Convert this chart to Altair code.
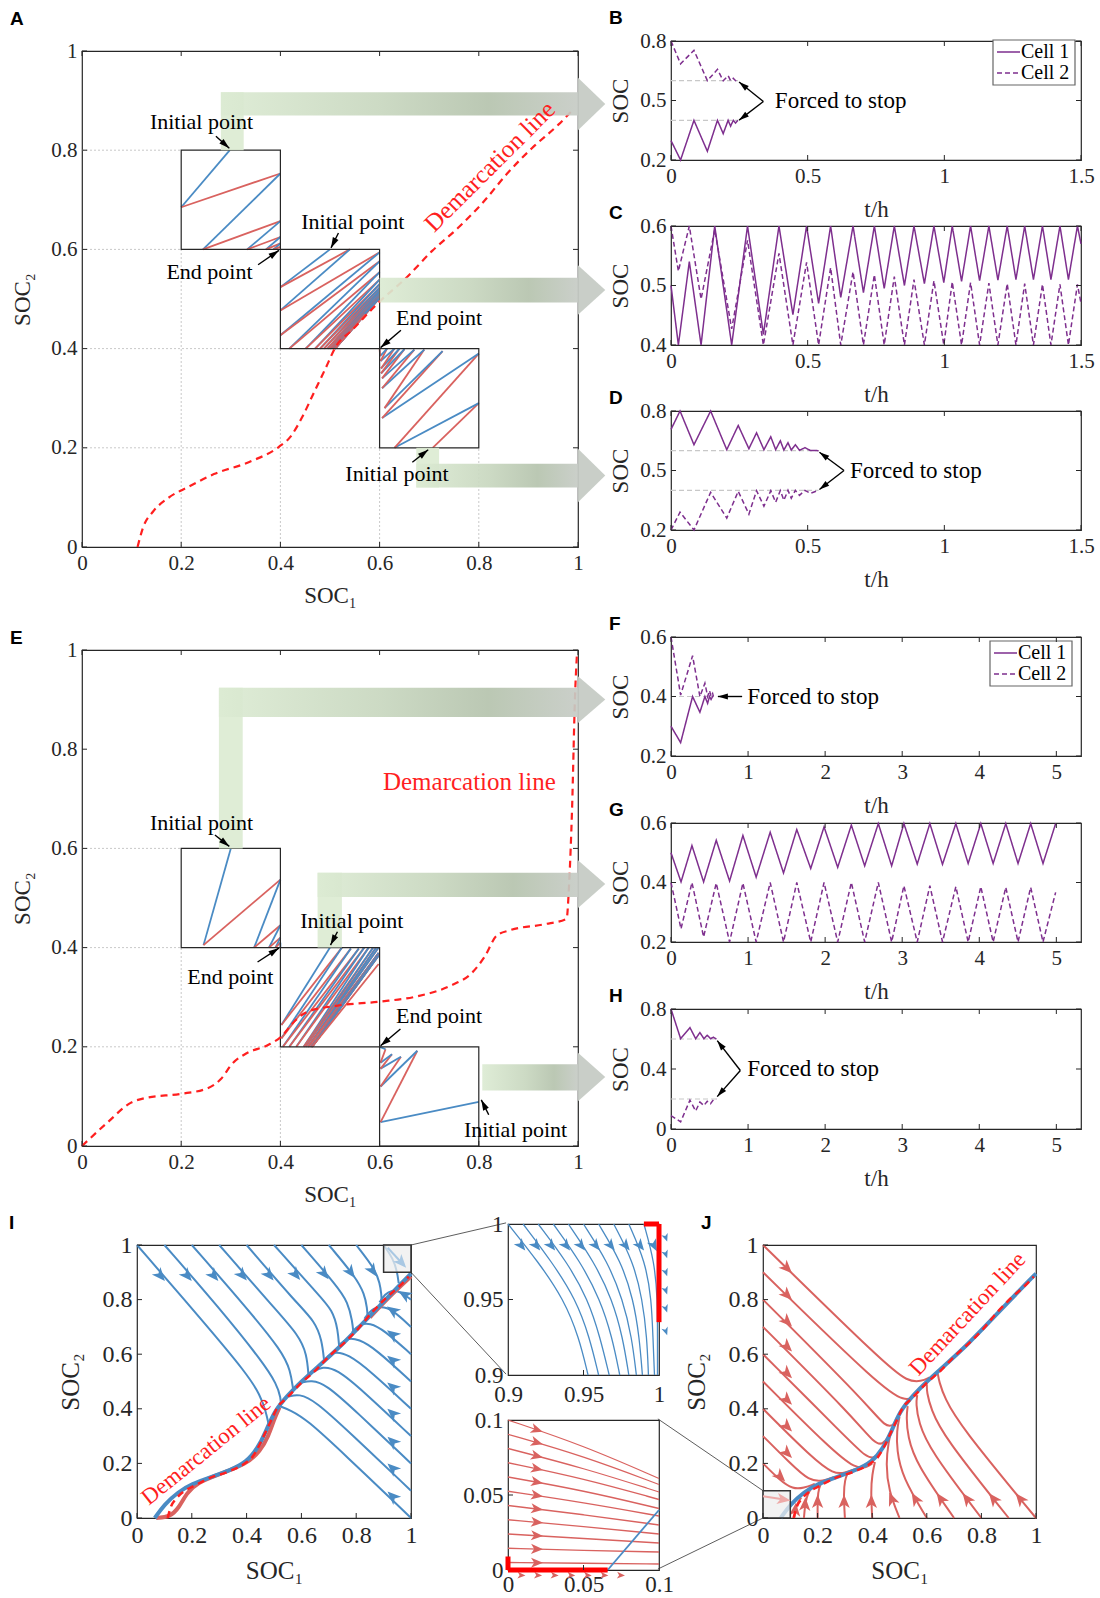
import math
import altair as alt
import pandas as pd

SERIF = "Liberation Serif"
SANS = "Liberation Sans"
INK = "#262626"
BLUE = "#4a8bc4"
RED = "#d9625f"
DEM_RED = "#ff1f1f"
PURPLE = "#7e2f8e"
GRID_GRAY = "#c9c9c9"

# ---------------- time series: t (h), SOC of cell 1 and cell 2 ----------------
B_T = [0, 0.035, 0.084, 0.133, 0.17, 0.191, 0.209, 0.218, 0.228, 0.236, 0.245]
B_CELL1 = [0.298, 0.2, 0.4, 0.244, 0.4, 0.333, 0.4, 0.371, 0.4, 0.386, 0.4]
B_CELL2 = [0.8, 0.685, 0.753, 0.6, 0.657, 0.6, 0.625, 0.6, 0.612, 0.6, 0.605]

C_T = [0, 0.027, 0.067, 0.11, 0.16, 0.222, 0.28, 0.338, 0.395, 0.446,
       0.496, 0.54, 0.584, 0.621, 0.666, 0.704, 0.744, 0.78, 0.817, 0.854,
       0.889, 0.927, 0.962, 0.998, 1.029, 1.063, 1.096, 1.129, 1.163, 1.196,
       1.23, 1.262, 1.294, 1.326, 1.359, 1.39, 1.423, 1.454, 1.487, 1.5]
C_CELL1 = [0.5, 0.4, 0.54, 0.4, 0.6, 0.4, 0.6, 0.418, 0.6, 0.451,
           0.6, 0.47, 0.6, 0.48, 0.6, 0.488, 0.6, 0.495, 0.6, 0.5,
           0.6, 0.503, 0.6, 0.505, 0.6, 0.507, 0.6, 0.508, 0.6, 0.509,
           0.6, 0.51, 0.6, 0.51, 0.6, 0.51, 0.6, 0.51, 0.6, 0.57]
C_CELL2 = [0.6, 0.524, 0.6, 0.477, 0.594, 0.427, 0.576, 0.4, 0.554, 0.4,
           0.539, 0.4, 0.53, 0.4, 0.523, 0.4, 0.518, 0.4, 0.515, 0.4,
           0.51, 0.4, 0.508, 0.4, 0.506, 0.4, 0.505, 0.4, 0.504, 0.4,
           0.503, 0.4, 0.503, 0.4, 0.502, 0.4, 0.502, 0.4, 0.502, 0.47]

D_T = [0, 0.033, 0.084, 0.145, 0.204, 0.246, 0.285, 0.313, 0.34, 0.365,
       0.383, 0.4, 0.413, 0.428, 0.44, 0.455, 0.47, 0.49, 0.51, 0.54]
D_CELL1 = [0.707, 0.8, 0.63, 0.8, 0.605, 0.727, 0.61, 0.69, 0.605, 0.67,
           0.605, 0.65, 0.603, 0.64, 0.603, 0.63, 0.602, 0.615, 0.601, 0.6]
D_CELL2 = [0.2, 0.29, 0.2, 0.39, 0.26, 0.395, 0.28, 0.398, 0.32, 0.398,
           0.34, 0.399, 0.35, 0.4, 0.36, 0.4, 0.375, 0.4, 0.385, 0.4]

F_T = [0, 0.125, 0.28, 0.375, 0.44, 0.475, 0.5, 0.52, 0.54, 0.55]
F_CELL1 = [0.3, 0.245, 0.4, 0.347, 0.4, 0.377, 0.4, 0.39, 0.4, 0.4]
F_CELL2 = [0.6, 0.405, 0.537, 0.4, 0.445, 0.4, 0.42, 0.4, 0.41, 0.4]

G_T = [0, 0.13, 0.272, 0.423, 0.587, 0.76, 0.933, 1.105, 1.287, 1.46,
       1.632, 1.813, 1.986, 2.163, 2.34, 2.513, 2.69, 2.863, 3.022, 3.195,
       3.359, 3.523, 3.696, 3.856, 4.02, 4.18, 4.344, 4.503, 4.667, 4.827, 4.991]
G_CELL1 = [0.5, 0.402, 0.524, 0.402, 0.542, 0.405, 0.558, 0.418, 0.569, 0.432,
           0.578, 0.447, 0.587, 0.451, 0.593, 0.456, 0.598, 0.456, 0.598, 0.462,
           0.598, 0.461, 0.598, 0.464, 0.598, 0.464, 0.598, 0.464, 0.598, 0.464, 0.598]
G_CELL2 = [0.4, 0.244, 0.4, 0.217, 0.398, 0.2, 0.398, 0.2, 0.4, 0.2,
           0.4, 0.2, 0.4, 0.2, 0.4, 0.2, 0.4, 0.2, 0.389, 0.2,
           0.389, 0.2, 0.386, 0.2, 0.386, 0.2, 0.384, 0.2, 0.384, 0.2, 0.367]

H_T = [0, 0.125, 0.246, 0.32, 0.375, 0.427, 0.47, 0.513, 0.55, 0.59]
H_CELL1 = [0.8, 0.602, 0.676, 0.602, 0.643, 0.602, 0.625, 0.602, 0.612, 0.6]
H_CELL2 = [0.089, 0.048, 0.192, 0.12, 0.18, 0.156, 0.185, 0.168, 0.195, 0.2]

# ---------------- demarcation lines ----------------
DEM_A_X = [0.112, 0.123, 0.143, 0.174, 0.212, 0.266, 0.336, 0.397, 0.42, 0.444, 0.467, 0.49,
           0.513, 0.544, 0.598, 0.652, 0.706, 0.76, 0.806, 0.86, 0.907, 0.961, 0.992]
DEM_A_Y = [0.0, 0.039, 0.071, 0.099, 0.12, 0.147, 0.171, 0.202, 0.222, 0.262, 0.31, 0.358,
           0.406, 0.437, 0.493, 0.541, 0.597, 0.645, 0.692, 0.756, 0.804, 0.852, 0.884]
DEM_E_X = [0.0, 0.052, 0.098, 0.129, 0.198, 0.252, 0.28, 0.303, 0.33, 0.376, 0.4, 0.43, 0.453,
           0.515, 0.6, 0.677, 0.747, 0.785, 0.812, 0.836, 0.863, 0.932, 0.977, 0.982, 0.988, 0.994, 0.998]
DEM_E_Y = [0.0, 0.048, 0.087, 0.097, 0.105, 0.116, 0.135, 0.166, 0.186, 0.204, 0.219, 0.253, 0.27,
           0.283, 0.291, 0.302, 0.325, 0.348, 0.382, 0.424, 0.435, 0.447, 0.458, 0.527, 0.679, 0.907, 0.994]

# limit curve followed by the streamlines
GUIDE_X = [0.065, 0.1, 0.15, 0.2, 0.27, 0.34, 0.4, 0.44, 0.47, 0.5, 0.55, 0.6, 0.65, 0.75, 0.85, 0.95, 1.0]
GUIDE_Y = [0.0, 0.05, 0.095, 0.125, 0.15, 0.175, 0.205, 0.255, 0.315, 0.39, 0.45, 0.5, 0.545, 0.635, 0.74, 0.845, 0.895]
I_RED_X = [[0.07, 0.12, 0.155, 0.18, 0.22, 0.3, 0.4, 0.45, 0.48, 0.5, 0.52], [0.85, 0.92, 1.0]]
I_RED_Y = [[0.0, 0.003, 0.04, 0.09, 0.13, 0.16, 0.198, 0.245, 0.3, 0.36, 0.405], [0.735, 0.81, 0.885]]

# ---------------- panel I streamlines (discharge field) ----------------
I_UP_X = [[0.0, 0.25, 0.40, 0.45, 0.47, 0.48],
          [0.1, 0.30, 0.46, 0.51, 0.525, 0.525],
          [0.2, 0.40, 0.53, 0.56, 0.57],
          [0.3, 0.50, 0.59, 0.62, 0.626],
          [0.4, 0.58, 0.65, 0.675, 0.683],
          [0.5, 0.66, 0.715, 0.733, 0.738],
          [0.6, 0.73, 0.77, 0.786, 0.79],
          [0.7, 0.80, 0.83, 0.84, 0.842],
          [0.8, 0.87, 0.886, 0.892, 0.893],
          [0.9, 0.935, 0.95, 0.955]]
I_UP_Y = [[1.0, 0.71, 0.53, 0.45, 0.39, 0.345],
          [1.0, 0.77, 0.57, 0.49, 0.44, 0.41],
          [1.0, 0.77, 0.61, 0.54, 0.47],
          [1.0, 0.77, 0.67, 0.60, 0.52],
          [1.0, 0.79, 0.72, 0.65, 0.575],
          [1.0, 0.82, 0.76, 0.69, 0.625],
          [1.0, 0.85, 0.79, 0.72, 0.676],
          [1.0, 0.88, 0.82, 0.77, 0.73],
          [1.0, 0.91, 0.86, 0.82, 0.79],
          [1.0, 0.95, 0.9, 0.86]]
I_UP_ARROW_X = [0.085, 0.183, 0.28, 0.384, 0.482, 0.579, 0.683, 0.78, 0.86]
I_UP_ARROW_Y = [0.888, 0.888, 0.888, 0.89, 0.89, 0.892, 0.895, 0.9, 0.906]
I_UP_ARROW_U = [1, 1, 1, 1, 1, 1, 1, 1, 1]
I_UP_ARROW_V = [-1.16, -1.16, -1.16, -1.16, -1.2, -1.2, -1.25, -1.35, -1.5]

I_R_X = [[1.0, 0.75, 0.62, 0.56, 0.52],
         [1.0, 0.78, 0.65, 0.59, 0.555],
         [1.0, 0.80, 0.69, 0.635, 0.60],
         [1.0, 0.82, 0.73, 0.675, 0.645],
         [1.0, 0.85, 0.77, 0.72, 0.695],
         [1.0, 0.87, 0.81, 0.765, 0.74],
         [1.0, 0.90, 0.85, 0.81, 0.785],
         [1.0, 0.93, 0.89, 0.855, 0.83],
         [1.0, 0.96, 0.93, 0.905, 0.885]]
I_R_Y = [[0.0, 0.24, 0.36, 0.395, 0.41],
         [0.1, 0.31, 0.43, 0.455, 0.445],
         [0.2, 0.39, 0.49, 0.505, 0.495],
         [0.3, 0.47, 0.545, 0.555, 0.535],
         [0.4, 0.54, 0.60, 0.61, 0.59],
         [0.5, 0.62, 0.655, 0.66, 0.635],
         [0.6, 0.69, 0.715, 0.71, 0.68],
         [0.7, 0.765, 0.775, 0.765, 0.73],
         [0.8, 0.83, 0.835, 0.82, 0.79]]
I_R_ARROW_X = [0.933, 0.933, 0.933, 0.933, 0.933, 0.933, 0.933, 0.933, 0.976]
I_R_ARROW_Y = [0.079, 0.182, 0.28, 0.383, 0.48, 0.578, 0.672, 0.76, 0.818]
I_R_ARROW_U = [-1, -1, -1, -1, -1, -1, -1, -1, -1]
I_R_ARROW_V = [0.96, 0.95, 0.95, 0.9, 0.85, 0.8, 0.75, 0.7, 0.6]

# ---------------- panel J streamlines (charge field) ----------------
J_L_X = [[0.0, 0.45, 0.53, 0.58, 0.61],
         [0.0, 0.44, 0.52, 0.55, 0.57],
         [0.0, 0.38, 0.45, 0.48, 0.5],
         [0.0, 0.33, 0.41, 0.44, 0.46],
         [0.0, 0.3, 0.38, 0.41, 0.43],
         [0.0, 0.25, 0.34, 0.38, 0.4],
         [0.0, 0.18, 0.26, 0.3, 0.34],
         [0.0, 0.1, 0.17, 0.22, 0.26],
         [0.0, 0.06, 0.11, 0.15, 0.19]]
J_L_Y = [[1.0, 0.56, 0.5, 0.5, 0.515],
         [0.9, 0.47, 0.43, 0.44, 0.465],
         [0.8, 0.42, 0.33, 0.34, 0.37],
         [0.7, 0.37, 0.27, 0.27, 0.3],
         [0.6, 0.3, 0.22, 0.22, 0.24],
         [0.5, 0.25, 0.18, 0.185, 0.2],
         [0.4, 0.22, 0.16, 0.165, 0.18],
         [0.3, 0.2, 0.135, 0.135, 0.15],
         [0.2, 0.14, 0.105, 0.11, 0.125]]
J_L_ARROW_X = [0.088, 0.088, 0.088, 0.088, 0.088, 0.088, 0.088, 0.088, 0.063]
J_L_ARROW_Y = [0.915, 0.817, 0.72, 0.628, 0.53, 0.433, 0.335, 0.238, 0.152]

J_B_X = [[1.0, 0.72, 0.665, 0.645, 0.64],
         [0.9, 0.66, 0.615, 0.6, 0.6],
         [0.8, 0.61, 0.57, 0.56, 0.565],
         [0.7, 0.56, 0.53, 0.525, 0.53],
         [0.6, 0.51, 0.49, 0.49, 0.5],
         [0.5, 0.46, 0.45, 0.46, 0.47],
         [0.4, 0.395, 0.4, 0.41],
         [0.3, 0.295, 0.3, 0.31],
         [0.2, 0.2, 0.205, 0.215],
         [0.15, 0.155, 0.165, 0.175],
         [0.115, 0.12, 0.13, 0.14]]
J_B_Y = [[0.0, 0.34, 0.44, 0.5, 0.53],
         [0.0, 0.3, 0.4, 0.46, 0.49],
         [0.0, 0.25, 0.35, 0.42, 0.45],
         [0.0, 0.2, 0.3, 0.37, 0.41],
         [0.0, 0.15, 0.25, 0.32, 0.37],
         [0.0, 0.1, 0.2, 0.28, 0.32],
         [0.0, 0.1, 0.16, 0.205],
         [0.0, 0.09, 0.14, 0.165],
         [0.0, 0.08, 0.11, 0.13],
         [0.0, 0.06, 0.09, 0.105],
         [0.0, 0.04, 0.06, 0.075]]
J_B_ARROW_X = [0.942, 0.844, 0.747, 0.651, 0.558, 0.472, 0.397, 0.297, 0.2, 0.154, 0.118]
J_B_ARROW_Y = [0.07, 0.07, 0.07, 0.07, 0.07, 0.07, 0.06, 0.06, 0.06, 0.05, 0.03]
J_B_ARROW_U = [-0.82, -0.8, -0.76, -0.7, -0.6, -0.4, 0, 0, 0, 0.05, 0.1]

# ---------------- zoomed insets ----------------
IT_Y = [1.0, 0.975, 0.95, 0.925, 0.9]
IT_X = [[0.900, 0.920, 0.937, 0.947, 0.953],
        [0.910, 0.929, 0.945, 0.954, 0.960],
        [0.920, 0.939, 0.953, 0.961, 0.967],
        [0.930, 0.948, 0.961, 0.969, 0.974],
        [0.940, 0.957, 0.969, 0.976, 0.980],
        [0.950, 0.966, 0.976, 0.982, 0.985],
        [0.960, 0.975, 0.983, 0.987, 0.989],
        [0.970, 0.983, 0.989, 0.992, 0.993],
        [0.980, 0.991, 0.995, 0.996, 0.997],
        [0.990, 0.997, 0.999, 0.999, 0.999]]
IT_ARROW_X = [0.9088, 0.9187, 0.9286, 0.9385, 0.9484, 0.9582, 0.9681, 0.978, 0.9875, 0.9967]
IT_ARROW_Y = [0.9857] * 10
# arrowheads of streamlines just beyond the right edge of the zoom window
IT_EDGE_Y = [0.991, 0.98, 0.968, 0.956, 0.944, 0.929]

IB_X = [0.0, 0.05, 0.1]
IB_Y = [[0.1, 0.083, 0.061],
        [0.0905, 0.076, 0.057],
        [0.081, 0.068, 0.052],
        [0.0715, 0.061, 0.047],
        [0.062, 0.053, 0.041],
        [0.0525, 0.045, 0.036],
        [0.043, 0.037, 0.03],
        [0.0335, 0.029, 0.024],
        [0.024, 0.021, 0.018],
        [0.0145, 0.013, 0.012],
        [0.005, 0.0045, 0.004]]
IB_ARROW_Y = [0.0935, 0.085, 0.076, 0.0675, 0.0586, 0.0497, 0.0407, 0.0318, 0.0229, 0.014, 0.0048]
IB_ARROW_V = [-0.34, -0.29, -0.26, -0.21, -0.18, -0.15, -0.12, -0.09, -0.06, -0.03, -0.01]
# arrowheads of streamlines just below the bottom edge of the zoom window
IB_EDGE_X = [0.0088, 0.0198, 0.0308, 0.0418, 0.0527, 0.0637, 0.0747]

# ---------------- annotations ----------------
UNIT_TICKS = [0, 0.2, 0.4, 0.6, 0.8, 1]
NOTES_AE = ["Initial point", "Initial point", "End point", "End point", "Initial point"]
A_NOTE_X = [0.241, 0.546, 0.257, 0.72, 0.635]
A_NOTE_Y = [0.856, 0.655, 0.555, 0.461, 0.147]
A_PTR = ([0.27, 0.517, 0.355, 0.643, 0.666], [0.828, 0.633, 0.569, 0.437, 0.171],
         [0.297, 0.502, 0.397, 0.602, 0.698], [0.804, 0.603, 0.598, 0.402, 0.196])
E_NOTE_X = [0.241, 0.544, 0.299, 0.72, 0.874]
E_NOTE_Y = [0.652, 0.454, 0.34, 0.262, 0.033]
E_PTR = ([0.268, 0.515, 0.354, 0.642, 0.82], [0.627, 0.432, 0.371, 0.236, 0.063],
         [0.297, 0.501, 0.397, 0.602, 0.805], [0.604, 0.405, 0.399, 0.202, 0.093])

A_GRID_H_Y = [0.8, 0.6, 0.4, 0.2]
A_GRID_H_X2 = [0.2, 0.2, 0.4, 0.6]
A_GRID_V_X = [0.2, 0.4, 0.6, 0.8]
A_GRID_V_Y2 = [0.6, 0.4, 0.2, 0.2]
E_GRID_H_Y = [0.6, 0.4, 0.2]
E_GRID_H_X2 = [0.2, 0.2, 0.4]
E_GRID_V_X = [0.2, 0.4]
E_GRID_V_Y2 = [0.4, 0.2]
A_BOX_X = [0.2, 0.4, 0.6]
A_BOX_Y = [0.6, 0.4, 0.2]
E_BOX_X = [0.2, 0.4, 0.6]
E_BOX_Y = [0.4, 0.2, 0.0]

# wide guide arrows: vertical stubs, horizontal bands, heads
A_STUB = ([0.28, 0.674], [0.326, 0.72], [0.8, 0.12], [0.917, 0.2])
A_BAND = ([0.28, 0.6, 0.674], [0.87, 0.493, 0.12], [0.917, 0.543, 0.168])
A_HEAD = ([0.893, 0.518, 0.144], [0.053, 0.05, 0.054])
E_STUB = ([0.276, 0.475], [0.324, 0.524], [0.6, 0.4], [0.924, 0.551])
E_BAND = ([0.276, 0.475, 0.807], [0.865, 0.502, 0.112], [0.924, 0.551, 0.165])
E_HEAD = ([0.9, 0.528, 0.139], [0.047, 0.048, 0.049])

CELLS = ["Cell 1", "Cell 2"]

BAND_FILL = {"gradient": "linear", "x1": 0, "y1": 0, "x2": 1, "y2": 0,
             "stops": [{"offset": 0, "color": "#dcebd3"}, {"offset": 0.45, "color": "#c8d7bf"},
                       {"offset": 0.75, "color": "#b5c3ad"}, {"offset": 1, "color": "#c6cbc5"}]}

CHEVRON = "M0,-1L0.8,0.9L0,0.4L-0.8,0.9Z"
TIP = "M0,-1L0.6,1L-0.6,1Z"


def make_axis(values, fs, title=None, tfs=23, horizontal=True, w=0, h=0, tpos=0, pad=5):
    kw = dict(values=values, format="~g", labelFont=SERIF, labelFontSize=fs, labelColor=INK, labelPadding=pad,
              labelFlush=False, labelOverlap=False, ticks=False, domain=False, grid=False)
    if title:
        kw.update(title=title, titleFont=SERIF, titleFontSize=tfs, titleFontWeight="normal", titleColor=INK)
        if horizontal:
            kw.update(titleX=w / 2, titleY=tpos, titleBaseline="alphabetic", titleAlign="center")
        else:
            kw.update(titleAngle=270, titleX=tpos, titleY=h / 2, titleBaseline="middle", titleAlign="center")
    else:
        kw["title"] = None
    return alt.Axis(**kw)


class Panel:
    """One plot area: fixed scales and a shared axis definition for all of its layers."""

    def __init__(self, w, h, xdom, ydom, xticks, yticks, fs, xtitle=None, ytitle=None, tfs=23, xty=56, ytx=-60,
                 xpad=5):
        self.w, self.h = w, h
        self.xdom, self.ydom = xdom, ydom
        self.xs = alt.Scale(domain=xdom, nice=False, zero=False)
        self.ys = alt.Scale(domain=ydom, nice=False, zero=False)
        self.xaxis = make_axis(xticks, fs, xtitle, tfs, True, w, h, xty, xpad)
        self.yaxis = make_axis(yticks, fs, ytitle, tfs, False, w, h, ytx)
        self.sx = w / (xdom[1] - xdom[0])
        self.sy = h / (ydom[1] - ydom[0])
        self.layers = []

    def X(self, f):
        return alt.X(f, type="quantitative", scale=self.xs, axis=self.xaxis)

    def Y(self, f):
        return alt.Y(f, type="quantitative", scale=self.ys, axis=self.yaxis)

    def angle(self, u, v):
        return math.degrees(math.atan2(u * self.sx, v * self.sy)) % 360

    def add(self, *c):
        self.layers.extend(c)

    def chart(self):
        return alt.layer(*self.layers).properties(width=self.w, height=self.h)


def add_ticks(p, xticks, yticks, sides, L=5):
    dx = pd.DataFrame({"v": xticks})
    dy = pd.DataFrame({"v": yticks})
    st = dict(color=INK, strokeWidth=1)
    if "b" in sides:
        p.add(alt.Chart(dx).mark_rule(**st).encode(x=p.X("v"), y=alt.value(p.h), y2=alt.value(p.h - L)))
    if "t" in sides:
        p.add(alt.Chart(dx).mark_rule(**st).encode(x=p.X("v"), y=alt.value(0), y2=alt.value(L)))
    if "l" in sides:
        p.add(alt.Chart(dy).mark_rule(**st).encode(y=p.Y("v"), x=alt.value(0), x2=alt.value(L)))
    if "r" in sides:
        p.add(alt.Chart(dy).mark_rule(**st).encode(y=p.Y("v"), x=alt.value(p.w), x2=alt.value(p.w - L)))


def seg_df(x1, y1, x2, y2):
    return pd.DataFrame({"x": x1, "y": y1, "x2": x2, "y2": y2})


def add_segments(p, df, **mark):
    p.add(alt.Chart(df).mark_rule(**mark).encode(
        x=p.X("x"), y=p.Y("y"), x2=alt.X2("x2"), y2=alt.Y2("y2")))


def add_curves(p, xs_list, ys_list, interp="basis", **mark):
    rows = []
    for k, (xs, ys) in enumerate(zip(xs_list, ys_list)):
        for i, (x, y) in enumerate(zip(xs, ys)):
            rows.append((x, y, k, i))
    df = pd.DataFrame(rows, columns=["x", "y", "k", "i"])
    p.add(alt.Chart(df).mark_line(interpolate=interp, **mark).encode(
        x=p.X("x"), y=p.Y("y"), detail="k:N", order="i:Q"))


def add_heads(p, xs, ys, us, vs, color, size, shape=CHEVRON, opacity=1.0):
    df = pd.DataFrame({"x": xs, "y": ys, "a": [p.angle(u, v) for u, v in zip(us, vs)]})
    p.add(alt.Chart(df).mark_point(shape=shape, filled=True, fill=color, strokeWidth=0,
                                   size=size, opacity=opacity).encode(
        x=p.X("x"), y=p.Y("y"), angle=alt.Angle("a:Q", scale=None)))


def add_pointers(p, x1, y1, x2, y2, head=110, width=1.4):
    add_segments(p, seg_df(x1, y1, x2, y2), color="black", strokeWidth=width)
    r = math.sqrt(head) / 2
    hx, hy = [], []
    for a, b, c, d in zip(x1, y1, x2, y2):
        dxp, dyp = (c - a) * p.sx, (d - b) * p.sy
        n = math.hypot(dxp, dyp)
        hx.append(c - dxp / n * r / p.sx)
        hy.append(d - dyp / n * r / p.sy)
    us = [c - a for a, c in zip(x1, x2)]
    vs = [d - b for b, d in zip(y1, y2)]
    add_heads(p, hx, hy, us, vs, "black", head, shape=TIP)


def add_text(p, xs, ys, texts, size, color="black", align="center", angle=None, baseline="middle"):
    df = pd.DataFrame({"x": xs, "y": ys, "s": texts})
    mk = dict(font=SERIF, fontSize=size, color=color, align=align, baseline=baseline)
    if angle is not None:
        mk["angle"] = angle
    p.add(alt.Chart(df).mark_text(**mk).encode(x=p.X("x"), y=p.Y("y"), text="s:N"))


def add_letter(p, ch, dx, dy):
    p.add(alt.Chart(pd.DataFrame({"s": [ch]})).mark_text(
        font=SANS, fontSize=19, fontWeight="bold", align="left", baseline="alphabetic", color="black"
    ).encode(text="s:N", x=alt.value(dx), y=alt.value(dy)))


def add_phase(p, c1, c2, width=1.8):
    rows = []
    for i in range(len(c1) - 1):
        up = (c1[i + 1] + c2[i + 1]) > (c1[i] + c2[i])
        rows.append((c1[i], c2[i], c1[i + 1], c2[i + 1], "charge" if up else "discharge"))
    df = pd.DataFrame(rows, columns=["x", "y", "x2", "y2", "mode"])
    p.add(alt.Chart(df).mark_rule(strokeWidth=width).encode(
        x=p.X("x"), y=p.Y("y"), x2=alt.X2("x2"), y2=alt.Y2("y2"),
        color=alt.Color("mode:N", scale=alt.Scale(domain=["charge", "discharge"], range=[RED, BLUE]), legend=None)))


def add_boxes(p, bx, by, size=0.2):
    df = pd.DataFrame({"x": bx, "y": by, "x2": [v + size for v in bx], "y2": [v + size for v in by]})
    p.add(alt.Chart(df).mark_rect(fillOpacity=0, stroke=INK, strokeWidth=1.2).encode(
        x=p.X("x"), y=p.Y("y"), x2=alt.X2("x2"), y2=alt.Y2("y2")))


def add_big_arrows(p, stub, band, head, tip=1.055):
    sdf = pd.DataFrame({"x": stub[0], "x2": stub[1], "y": stub[2], "y2": stub[3]})
    p.add(alt.Chart(sdf).mark_rect(color="#dcebd3", opacity=0.92).encode(
        x=p.X("x"), y=p.Y("y"), x2=alt.X2("x2"), y2=alt.Y2("y2")))
    bdf = pd.DataFrame({"x": band[0], "x2": [1.0] * len(band[0]), "y": band[1], "y2": band[2]})
    p.add(alt.Chart(bdf).mark_rect(fill=BAND_FILL, opacity=0.92).encode(
        x=p.X("x"), y=p.Y("y"), x2=alt.X2("x2"), y2=alt.Y2("y2")))
    rows = []
    for k, (yc, hh) in enumerate(zip(head[0], head[1])):
        rows.append((1.0, yc - hh, yc + hh, k))
        rows.append((tip, yc, yc, k))
    hdf = pd.DataFrame(rows, columns=["x", "y", "y2", "k"])
    p.add(alt.Chart(hdf).mark_area(color="#c6cbc5", opacity=0.95).encode(
        x=p.X("x"), y=p.Y("y"), y2=alt.Y2("y2"), detail="k:N"))


def add_legend(p, left, top):
    """Boxed key with a solid and a dashed purple sample, placed in pixel units."""
    box = alt.Chart(pd.DataFrame({"s": ["box"]})).mark_rect(
        fill="white", stroke="#666666", strokeWidth=1.2).encode(
        x=alt.value(left), x2=alt.value(left + 82), y=alt.value(top), y2=alt.value(top + 45))
    p.add(box)
    for row, (name, dash) in enumerate(zip(CELLS, [[1, 0], [5, 3]])):
        yy = top + 12 + row * 21
        p.add(alt.Chart(pd.DataFrame({"s": [name]})).mark_rule(
            color=PURPLE, strokeWidth=1.5, strokeDash=dash).encode(
            x=alt.value(left + 4), x2=alt.value(left + 27), y=alt.value(yy)))
        p.add(alt.Chart(pd.DataFrame({"s": [name]})).mark_text(
            font=SERIF, fontSize=20, align="left", baseline="middle", color="black").encode(
            text="s:N", x=alt.value(left + 28), y=alt.value(yy)))


def spacer():
    """A blank 1-pixel view used to offset neighbouring panels in the grid."""
    return alt.Chart(pd.DataFrame({"v": [0]})).mark_point(opacity=0, size=1).encode(
        x=alt.value(0), y=alt.value(0)).properties(width=1, height=1, view=alt.ViewBackground(stroke="transparent"))


# ---------------- phase-plane panels A and E ----------------
def phase_panel(letter, grid, boxes, trajs, dem, arrows, notes, ptr, dem_label):
    p = Panel(496, 496, [0, 1], [0, 1], UNIT_TICKS, UNIT_TICKS, 21, "SOC\u2081", "SOC\u2082", 23, 55, -60)
    gh_y, gh_x2, gv_x, gv_y2 = grid
    dash = dict(color=GRID_GRAY, strokeWidth=1, strokeDash=[2, 2])
    add_segments(p, seg_df([0] * len(gh_y), gh_y, gh_x2, gh_y), **dash)
    add_segments(p, seg_df(gv_x, [0] * len(gv_x), gv_x, gv_y2), **dash)
    for c1, c2 in trajs:
        add_phase(p, c1, c2)
    add_boxes(p, *boxes)
    add_curves(p, [dem[0]], [dem[1]], interp="monotone", color=DEM_RED, strokeWidth=2.2, strokeDash=[7, 5])
    add_big_arrows(p, *arrows)
    add_ticks(p, UNIT_TICKS, UNIT_TICKS, "lbtr")
    add_text(p, notes[0], notes[1], NOTES_AE, 22)
    add_pointers(p, *ptr)
    add_text(p, [dem_label[0]], [dem_label[1]], ["Demarcation line"], 25, color=DEM_RED, angle=dem_label[2])
    add_letter(p, letter, -72, dem_label[3])
    return p.chart()


chartA = phase_panel("A", (A_GRID_H_Y, A_GRID_H_X2, A_GRID_V_X, A_GRID_V_Y2), (A_BOX_X, A_BOX_Y),
                     [(B_CELL1, B_CELL2), (C_CELL1, C_CELL2), (D_CELL1, D_CELL2)], (DEM_A_X, DEM_A_Y),
                     (A_STUB, A_BAND, A_HEAD), (A_NOTE_X, A_NOTE_Y), A_PTR, (0.822, 0.767, 315, -26))
chartE = phase_panel("E", (E_GRID_H_Y, E_GRID_H_X2, E_GRID_V_X, E_GRID_V_Y2), (E_BOX_X, E_BOX_Y),
                     [(F_CELL1, F_CELL2), (G_CELL1, G_CELL2), (H_CELL1, H_CELL2)], (DEM_E_X, DEM_E_Y),
                     (E_STUB, E_BAND, E_HEAD), (E_NOTE_X, E_NOTE_Y), E_PTR, (0.781, 0.733, 0, -6))


# ---------------- time-series panels B-D, F-H ----------------
def series_panel(letter, t, c1, c2, xdom, xticks, ydom, yticks, letter_dy, legend=None,
                 stop=None, ptr=None, note=None, h=119):
    p = Panel(410, h, xdom, ydom, xticks, yticks, 21, "t/h", "SOC", 23, 56, -51)
    if stop:
        st, levels = stop
        add_segments(p, seg_df([0] * len(levels), levels, [st] * len(levels), levels),
                     color="#c8c8c8", strokeWidth=1.1, strokeDash=[5, 3])
    n = len(t)
    df = pd.DataFrame({"t": t + t, "soc": c1 + c2, "cell": [CELLS[0]] * n + [CELLS[1]] * n})
    p.add(alt.Chart(df).mark_line(color=PURPLE, strokeWidth=1.5).encode(
        x=p.X("t"), y=p.Y("soc"),
        strokeDash=alt.StrokeDash("cell:N", scale=alt.Scale(domain=CELLS, range=[[1, 0], [5, 3]]), legend=None)))
    if ptr:
        add_pointers(p, *ptr, head=100, width=1.4)
    if note:
        add_text(p, [note[0]], [note[1]], ["Forced to stop"], 23, align="left")
    if legend:
        add_legend(p, *legend)
    add_ticks(p, xticks, yticks, "lbtr")
    add_letter(p, letter, -62, letter_dy)
    return p.chart()


T15 = [0, 0.5, 1, 1.5]
T5 = [0, 1, 2, 3, 4, 5]
chartB = series_panel("B", B_T, B_CELL1, B_CELL2, [0, 1.5], T15, [0.2, 0.8], [0.2, 0.5, 0.8], -17,
                      legend=(322, -1), stop=(0.245, [0.6, 0.4]),
                      ptr=([0.338, 0.338], [0.495, 0.495], [0.249, 0.249], [0.593, 0.401]), note=(0.38, 0.5))
chartC = series_panel("C", C_T, C_CELL1, C_CELL2, [0, 1.5], T15, [0.4, 0.6], [0.4, 0.5, 0.6], -7)
chartD = series_panel("D", D_T, D_CELL1, D_CELL2, [0, 1.5], T15, [0.2, 0.8], [0.2, 0.5, 0.8], -7,
                      stop=(0.54, [0.6, 0.4]),
                      ptr=([0.633, 0.633], [0.5, 0.5], [0.543, 0.543], [0.592, 0.404]), note=(0.655, 0.5))
chartF = series_panel("F", F_T, F_CELL1, F_CELL2, [0, 5.32], T5, [0.2, 0.6], [0.2, 0.4, 0.6], -7,
                      legend=(319, 4), stop=(0.55, [0.4]),
                      ptr=([0.923], [0.4], [0.608], [0.4]), note=(0.99, 0.4))
chartG = series_panel("G", G_T, G_CELL1, G_CELL2, [0, 5.32], T5, [0.2, 0.6], [0.2, 0.4, 0.6], -7)
chartH = series_panel("H", H_T, H_CELL1, H_CELL2, [0, 5.32], T5, [0, 0.8], [0, 0.4, 0.8], -7,
                      stop=(0.59, [0.6, 0.2]),
                      ptr=([0.9, 0.9], [0.39, 0.39], [0.6, 0.6], [0.589, 0.216]), note=(0.99, 0.4), h=120)


# ---------------- streamline panels I and J ----------------
pI = Panel(274, 273, [0, 1], [0, 1], UNIT_TICKS, UNIT_TICKS, 24, "SOC\u2081", "SOC\u2082", 25, 60, -67)
add_curves(pI, I_UP_X, I_UP_Y, color=BLUE, strokeWidth=2)
add_curves(pI, I_R_X, I_R_Y, color=BLUE, strokeWidth=2)
add_heads(pI, I_UP_ARROW_X, I_UP_ARROW_Y, I_UP_ARROW_U, I_UP_ARROW_V, BLUE, 200)
add_heads(pI, I_R_ARROW_X, I_R_ARROW_Y, I_R_ARROW_U, I_R_ARROW_V, BLUE, 200)
add_curves(pI, I_RED_X, I_RED_Y, color=RED, strokeWidth=4)
add_curves(pI, [GUIDE_X], [GUIDE_Y], color=BLUE, strokeWidth=4)
add_curves(pI, [DEM_A_X], [DEM_A_Y], interp="monotone", color=DEM_RED, strokeWidth=2.5, strokeDash=[7, 5])
pI.add(alt.Chart(pd.DataFrame({"x": [0.9], "y": [0.9], "x2": [1.0], "y2": [1.0]})).mark_rect(
    fill="#eeeeee", fillOpacity=0.75, stroke="#333333", strokeWidth=1.5).encode(
    x=pI.X("x"), y=pI.Y("y"), x2=alt.X2("x2"), y2=alt.Y2("y2")))
add_segments(pI, seg_df([0.915], [0.99], [0.975], [0.925]), color="#a9c8e3", strokeWidth=2)
add_heads(pI, [0.965], [0.936], [1], [-1.1], "#a9c8e3", 200)
add_segments(pI, seg_df([1.0, 1.0], [1.0, 0.9], [1.347, 1.347], [1.081, 0.527]), color="#333333", strokeWidth=0.8)
add_ticks(pI, UNIT_TICKS, UNIT_TICKS, "lb")
add_text(pI, [0.252], [0.247], ["Demarcation line"], 23, color=DEM_RED, angle=321)
add_letter(pI, "I", -128, -16)
chartI = pI.chart()

pJ = Panel(273, 273, [0, 1], [0, 1], UNIT_TICKS, UNIT_TICKS, 24, "SOC\u2081", "SOC\u2082", 25, 60, -67)
add_curves(pJ, J_L_X, J_L_Y, color=RED, strokeWidth=2)
add_curves(pJ, J_B_X, J_B_Y, color=RED, strokeWidth=2)
add_heads(pJ, J_L_ARROW_X, J_L_ARROW_Y, [1] * 9, [-1] * 9, RED, 200)
add_heads(pJ, J_B_ARROW_X, J_B_ARROW_Y, J_B_ARROW_U, [1] * 11, RED, 200)
add_curves(pJ, [GUIDE_X], [GUIDE_Y], color=BLUE, strokeWidth=4)
add_curves(pJ, [DEM_A_X], [DEM_A_Y], interp="monotone", color=DEM_RED, strokeWidth=2.5, strokeDash=[7, 5])
pJ.add(alt.Chart(pd.DataFrame({"x": [0.0], "y": [0.0], "x2": [0.1], "y2": [0.1]})).mark_rect(
    fill="#eeeeee", fillOpacity=0.75, stroke="#333333", strokeWidth=1.5).encode(
    x=pJ.X("x"), y=pJ.Y("y"), x2=alt.X2("x2"), y2=alt.Y2("y2")))
add_segments(pJ, seg_df([0.0], [0.08], [0.09], [0.066]), color="#eeaaa8", strokeWidth=2)
add_heads(pJ, [0.075], [0.068], [1], [-0.15], "#eeaaa8", 200)
add_segments(pJ, seg_df([0.0, 0.0], [0.1, 0.0], [-0.385, -0.385], [0.363, -0.187]), color="#333333", strokeWidth=0.8)
add_ticks(pJ, UNIT_TICKS, UNIT_TICKS, "lb")
add_text(pJ, [0.749], [0.748], ["Demarcation line"], 23, color=DEM_RED, angle=313)
add_letter(pJ, "J", -62, -16)
chartJ = pJ.chart()

# zoomed corners
pIT = Panel(151, 151, [0.9, 1.0], [0.9, 1.0], [0.9, 0.95, 1], [0.9, 0.95, 1], 23, xpad=8)
add_curves(pIT, IT_X, [IT_Y] * len(IT_X), color=BLUE, strokeWidth=1.3)
add_heads(pIT, IT_ARROW_X, IT_ARROW_Y, [0.8] * 9 + [0.5], [-1] * 10, BLUE, 160)
add_heads(pIT, [1.0045] * len(IT_EDGE_Y), IT_EDGE_Y, [0.35] * len(IT_EDGE_Y), [-1] * len(IT_EDGE_Y), BLUE, 70)
add_segments(pIT, seg_df([1.0, 0.99], [0.935, 1.0], [1.0, 1.0], [1.0, 1.0]), color="#ff0000", strokeWidth=5)
add_ticks(pIT, [0.95], [0.95], "lb")
chartIT = pIT.chart()

pIB = Panel(151, 150, [0.0, 0.1], [0.0, 0.1], [0, 0.05, 0.1], [0, 0.05, 0.1], 23, xpad=3)
add_curves(pIB, [IB_X] * len(IB_Y), IB_Y, color=RED, strokeWidth=1.3)
add_heads(pIB, [0.019] * len(IB_ARROW_Y), IB_ARROW_Y, [1] * len(IB_ARROW_Y), IB_ARROW_V, RED, 160)
add_heads(pIB, IB_EDGE_X, [-0.0035] * len(IB_EDGE_X), [1] * len(IB_EDGE_X), [-0.05] * len(IB_EDGE_X), RED, 70)
add_segments(pIB, seg_df([0.066], [0.0], [0.1], [0.04]), color=BLUE, strokeWidth=1.8)
add_segments(pIB, seg_df([0.0, 0.0], [0.0, 0.0], [0.066, 0.0], [0.0, 0.009]), color="#ff0000", strokeWidth=5)
add_ticks(pIB, [0.05], [0.05], "lb")
chartIB = pIB.chart()

# ---------------- layout ----------------
left_col = alt.vconcat(spacer(), alt.vconcat(chartA, chartE, spacing=20), spacing=-34)
right_col = alt.vconcat(alt.vconcat(chartB, chartC, chartD, spacing=-19),
                        alt.vconcat(chartF, chartG, chartH, spacing=-18), spacing=22)
top_rows = alt.hconcat(left_col, right_col, spacing=2)
inset_col = alt.vconcat(chartIT, chartIB, spacing=1)
col_i = alt.vconcat(spacer(), chartI, spacing=-13)
col_j = alt.vconcat(spacer(), chartJ, spacing=-13)
panels_ij = alt.hconcat(alt.hconcat(col_i, inset_col, spacing=-53), col_j, spacing=-18)
bottom_row = alt.hconcat(spacer(), panels_ij, spacing=-76)

chart = alt.vconcat(top_rows, bottom_row, spacing=5).properties(
    padding={"left": 8, "top": 8, "right": 0, "bottom": 0}, background="white"
).configure_view(stroke=INK, strokeWidth=1.2)

chart.save("out.html", embed_options={"renderer": "svg", "actions": False})
